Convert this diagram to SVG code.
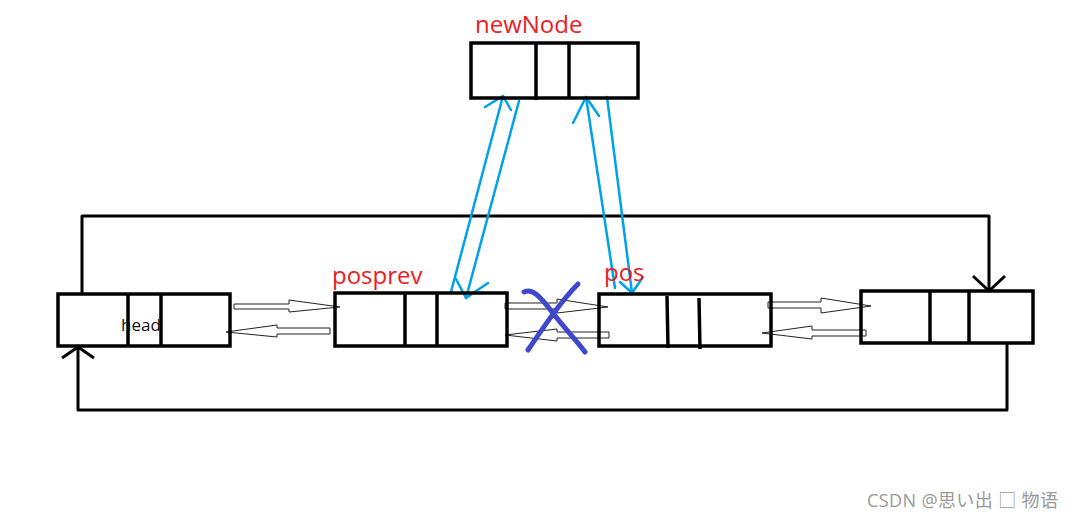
<svg xmlns="http://www.w3.org/2000/svg" width="1073" height="519" viewBox="0 0 1073 519">
<style>
.box{fill:none;stroke:#000;stroke-width:3.5}
.div{stroke:#000;stroke-width:3.5}
.red{fill:#ed1c24;font-family:"Open Sans","Noto Sans",sans-serif;font-size:24px}
.wire{fill:none;stroke:#000;stroke-width:3;stroke-linejoin:round}
.blk{fill:#fff;stroke:#222;stroke-width:1}
.blue{fill:none;stroke:#00a2e8;stroke-width:2.5;stroke-linecap:round;stroke-linejoin:round}
.cross{fill:none;stroke:#3f48cc;stroke-width:5;stroke-linecap:round}
</style>
<rect width="1073" height="519" fill="#fff"/>
<g id="connectors">
<polyline class="wire" points="82,294 82,216 989,216 989,291"/>
<polyline class="wire" points="973,276 989,291 1005,276"/>
<polyline class="wire" points="1007,343 1007,410 78,410 78,347"/>
<polyline class="wire" points="62,358 78,347 94,358"/>
<polygon class="blk" points="234,304 289,304 289,300 340,307 289,312 289,309 234,309"/>
<polygon class="blk" points="330,328 277,328 277,325 226,332 277,337 277,334 330,334"/>
<polygon class="blk" points="505,303 557,303 557,299 608,307 557,313 557,309 505,309"/>
<polygon class="blk" points="609,332 557,332 557,329 505,335 557,341 557,338 609,338"/>
<polygon class="blk" points="768,302 821,302 821,298 871,306 821,313 821,308 768,308"/>
<polygon class="blk" points="866,330 812,330 812,326 762,333 812,339 812,336 866,336"/>
<line class="blue" x1="451" y1="292" x2="503" y2="96"/>
<polyline class="blue" points="485,107 503,96 511,110"/>
<line class="blue" x1="519" y1="101" x2="466" y2="298"/>
<polyline class="blue" points="456,279 466,298 488,283"/>
<line class="blue" x1="615" y1="288" x2="586" y2="97"/>
<polyline class="blue" points="573,123 586,97 599,116"/>
<line class="blue" x1="607" y1="97" x2="632" y2="293"/>
<polyline class="blue" points="620,282 632,293 643,277"/>
<path class="cross" d="M524,292 C532,288 540,296 552,312 C566,330 578,342 585,352"/>
<path class="cross" d="M578,284 C562,300 545,325 528,350"/>
</g>
<g id="newNode">
<rect class="box" x="471" y="43" width="167" height="55"/>
<line class="div" x1="536" y1="43" x2="536" y2="100"/>
<line class="div" x1="569" y1="43" x2="569" y2="98"/>
<text class="red" x="475" y="33">newNode</text>
</g>
<g id="head">
<rect class="box" x="58" y="294" width="172" height="52"/>
<line class="div" x1="128" y1="294" x2="128" y2="346"/>
<line class="div" x1="161" y1="294" x2="161" y2="346"/>
<text x="121" y="331" font-family="Open Sans, Noto Sans, sans-serif" font-size="17" fill="#111">head</text>
</g>
<g id="posprev">
<rect class="box" x="335" y="293" width="172" height="53"/>
<line class="div" x1="405" y1="293" x2="405" y2="347"/>
<line class="div" x1="437" y1="293" x2="437" y2="346"/>
<text class="red" x="332" y="284">posprev</text>
</g>
<g id="pos">
<rect class="box" x="599" y="294" width="172" height="52"/>
<line class="div" x1="667" y1="296" x2="668" y2="348"/>
<line class="div" x1="699" y1="298" x2="700" y2="349"/>
<text class="red" x="604" y="281">pos</text>
</g>
<g id="last">
<rect class="box" x="861" y="291" width="172" height="52"/>
<line class="div" x1="930" y1="291" x2="930" y2="343"/>
<line class="div" x1="969" y1="291" x2="969" y2="343"/>
</g>
<text x="867" y="507" font-family="Open Sans, Noto Sans, Noto Sans CJK JP, sans-serif" font-size="18" fill="#999" textLength="191" lengthAdjust="spacing">CSDN @思い出 □ 物语</text>
</svg>
